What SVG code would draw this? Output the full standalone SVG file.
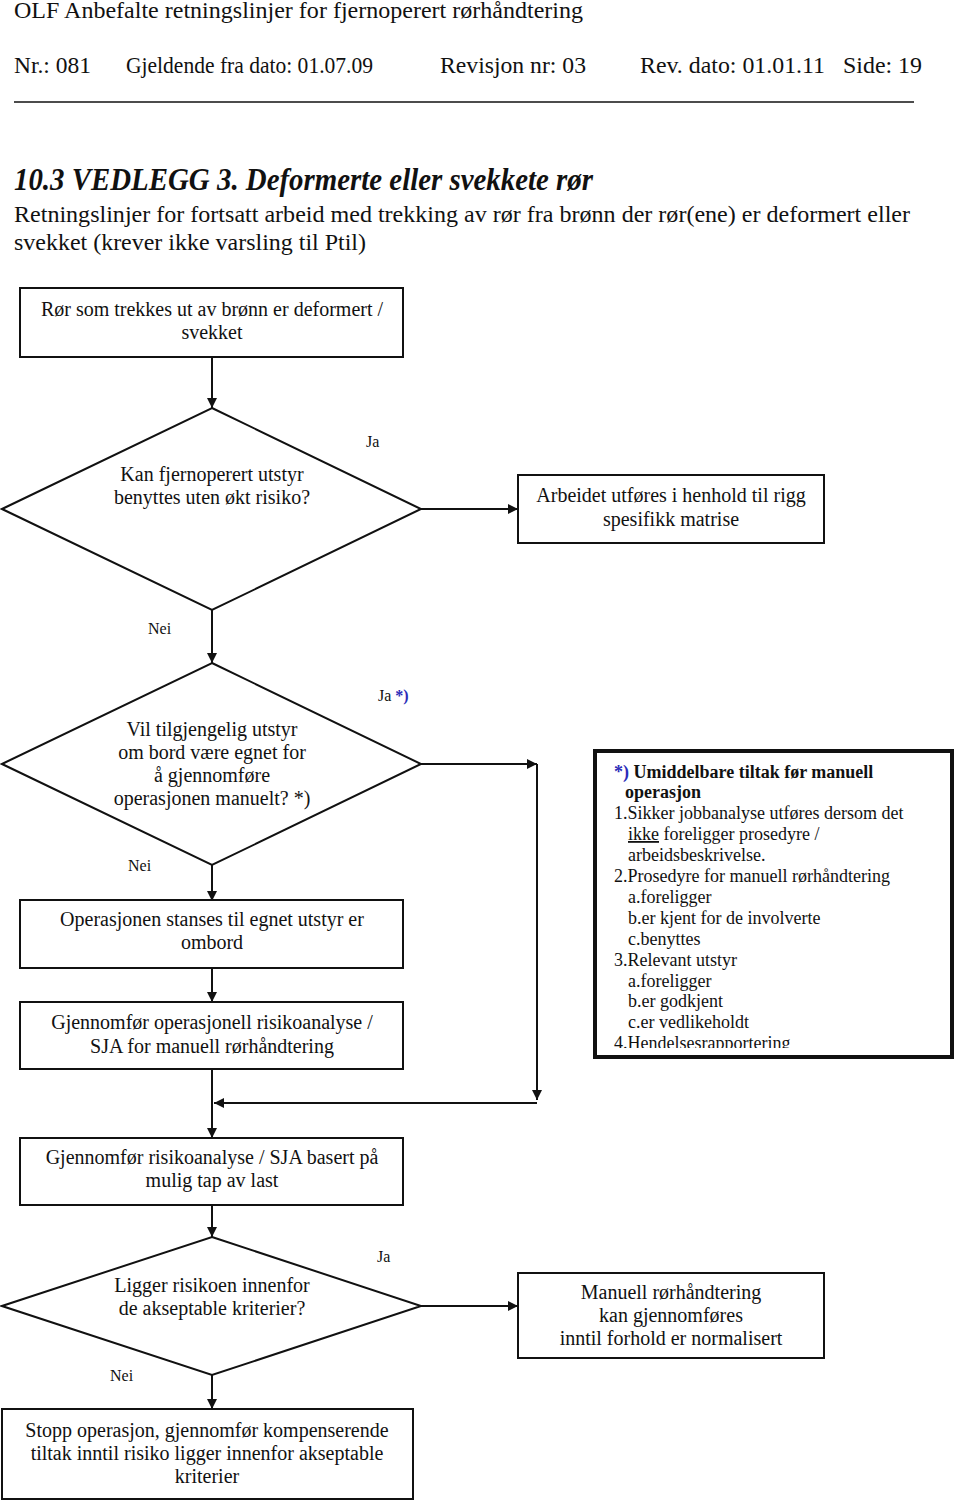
<svg xmlns="http://www.w3.org/2000/svg" width="960" height="1504" viewBox="0 0 960 1504">
<defs>
<style>
text{font-family:"Liberation Serif","Times New Roman",serif;fill:#111}
.hd{font-size:23px}
.ttl{font-size:31px;font-weight:bold;font-style:italic}
.nt{font-size:20px;text-anchor:middle}
.lb{font-size:16px}
.note{font-size:18px}
.b{font-weight:bold}
.blue{fill:#2b2bb8}
.box{fill:#fff;stroke:#111;stroke-width:2}
.dia{fill:#fff;stroke:#111;stroke-width:2}
.cn{fill:none;stroke:#111;stroke-width:2}
</style>
<marker id="ah" viewBox="0 0 10 10" refX="10" refY="5" markerWidth="10" markerHeight="10" markerUnits="userSpaceOnUse" orient="auto">
<path d="M0,0 L10,5 L0,10 Z" fill="#111"/>
</marker>
<clipPath id="noteclip"><rect x="596" y="752" width="355" height="296"/></clipPath>
</defs>
<rect width="960" height="1504" fill="#fff"/>

<g id="header">
<text class="hd" x="14" y="18" textLength="569" lengthAdjust="spacingAndGlyphs">OLF Anbefalte retningslinjer for fjernoperert rørhåndtering</text>
<text class="hd" x="14" y="73" textLength="77" lengthAdjust="spacingAndGlyphs">Nr.: 081</text>
<text class="hd" x="126" y="73" textLength="247" lengthAdjust="spacingAndGlyphs">Gjeldende fra dato: 01.07.09</text>
<text class="hd" x="440" y="73" textLength="146" lengthAdjust="spacingAndGlyphs">Revisjon nr: 03</text>
<text class="hd" x="640" y="73" textLength="185" lengthAdjust="spacingAndGlyphs">Rev. dato: 01.01.11</text>
<text class="hd" x="843" y="73" textLength="79" lengthAdjust="spacingAndGlyphs">Side: 19</text>
<line x1="14" y1="102" x2="914" y2="102" stroke="#111" stroke-width="1.5"/>
<text class="ttl" x="14" y="190" textLength="579" lengthAdjust="spacingAndGlyphs">10.3 VEDLEGG 3. Deformerte eller svekkete rør</text>
<text class="hd" x="14" y="222" textLength="896" lengthAdjust="spacingAndGlyphs">Retningslinjer for fortsatt arbeid med trekking av rør fra brønn der rør(ene) er deformert eller</text>
<text class="hd" x="14" y="250" textLength="352" lengthAdjust="spacingAndGlyphs">svekket (krever ikke varsling til Ptil)</text>
</g>

<g id="connectors">
<line class="cn" x1="212" y1="357" x2="212" y2="408" marker-end="url(#ah)"/>
<line class="cn" x1="421" y1="509" x2="518" y2="509" marker-end="url(#ah)"/>
<line class="cn" x1="212" y1="610" x2="212" y2="663" marker-end="url(#ah)"/>
<line class="cn" x1="421" y1="764" x2="537" y2="764" marker-end="url(#ah)"/>
<line class="cn" x1="537" y1="764" x2="537" y2="1100" marker-end="url(#ah)"/>
<line class="cn" x1="537" y1="1103" x2="214" y2="1103" marker-end="url(#ah)"/>
<line class="cn" x1="212" y1="865" x2="212" y2="901" marker-end="url(#ah)"/>
<line class="cn" x1="212" y1="968" x2="212" y2="1002" marker-end="url(#ah)"/>
<line class="cn" x1="212" y1="1069" x2="212" y2="1138" marker-end="url(#ah)"/>
<line class="cn" x1="212" y1="1205" x2="212" y2="1237" marker-end="url(#ah)"/>
<line class="cn" x1="421" y1="1306" x2="518" y2="1306" marker-end="url(#ah)"/>
<line class="cn" x1="212" y1="1375" x2="212" y2="1409" marker-end="url(#ah)"/>
<text class="lb" x="366" y="447">Ja</text>
<text class="lb" x="148" y="634">Nei</text>
<text class="lb" x="378" y="701">Ja <tspan class="b blue">*)</tspan></text>
<text class="lb" x="128" y="871">Nei</text>
<text class="lb" x="377" y="1262">Ja</text>
<text class="lb" x="110" y="1381">Nei</text>
</g>

<g id="n1">
<rect class="box" x="20" y="288" width="383" height="69"/>
<text class="nt" x="212" y="316">Rør som trekkes ut av brønn er deformert /</text>
<text class="nt" x="212" y="339">svekket</text>
</g>

<g id="d1">
<polygon class="dia" points="212,408 421,509 212,610 2,509"/>
<text class="nt" x="212" y="481">Kan fjernoperert utstyr</text>
<text class="nt" x="212" y="504">benyttes uten økt risiko?</text>
</g>

<g id="n2">
<rect class="box" x="518" y="475" width="306" height="68"/>
<text class="nt" x="671" y="502">Arbeidet utføres i henhold til rigg</text>
<text class="nt" x="671" y="526">spesifikk matrise</text>
</g>

<g id="d2">
<polygon class="dia" points="212,663 421,764 212,865 2,764"/>
<text class="nt" x="212" y="736">Vil tilgjengelig utstyr</text>
<text class="nt" x="212" y="759">om bord være egnet for</text>
<text class="nt" x="212" y="782">å gjennomføre</text>
<text class="nt" x="212" y="805">operasjonen manuelt? *)</text>
</g>

<g id="n3">
<rect class="box" x="20" y="900" width="383" height="68"/>
<text class="nt" x="212" y="926">Operasjonen stanses til egnet utstyr er</text>
<text class="nt" x="212" y="949">ombord</text>
</g>

<g id="n4">
<rect class="box" x="20" y="1002" width="383" height="67"/>
<text class="nt" x="212" y="1029">Gjennomfør operasjonell risikoanalyse /</text>
<text class="nt" x="212" y="1053">SJA for manuell rørhåndtering</text>
</g>

<g id="notes">
<rect x="595" y="751" width="357" height="306" fill="#fff" stroke="#111" stroke-width="4"/>
<g clip-path="url(#noteclip)">
<text class="note b" x="614" y="778"><tspan class="blue">*)</tspan> Umiddelbare tiltak før manuell</text>
<text class="note b" x="625" y="798">operasjon</text>
<text class="note" x="614" y="819">1.Sikker jobbanalyse utføres dersom det</text>
<text class="note" x="628" y="840"><tspan text-decoration="underline">ikke</tspan> foreligger prosedyre /</text>
<text class="note" x="628" y="861">arbeidsbeskrivelse.</text>
<text class="note" x="614" y="882">2.Prosedyre for manuell rørhåndtering</text>
<text class="note" x="628" y="903">a.foreligger</text>
<text class="note" x="628" y="924">b.er kjent for de involverte</text>
<text class="note" x="628" y="945">c.benyttes</text>
<text class="note" x="614" y="966">3.Relevant utstyr</text>
<text class="note" x="628" y="987">a.foreligger</text>
<text class="note" x="628" y="1007">b.er godkjent</text>
<text class="note" x="628" y="1028">c.er vedlikeholdt</text>
<text class="note" x="614" y="1049">4.Hendelsesrapportering</text>
</g>
</g>

<g id="n5">
<rect class="box" x="20" y="1138" width="383" height="67"/>
<text class="nt" x="212" y="1164">Gjennomfør risikoanalyse / SJA basert på</text>
<text class="nt" x="212" y="1187">mulig tap av last</text>
</g>

<g id="d3">
<polygon class="dia" points="212,1237 421,1306 212,1375 2,1306"/>
<text class="nt" x="212" y="1292">Ligger risikoen innenfor</text>
<text class="nt" x="212" y="1315">de akseptable kriterier?</text>
</g>

<g id="n6">
<rect class="box" x="518" y="1273" width="306" height="85"/>
<text class="nt" x="671" y="1299">Manuell rørhåndtering</text>
<text class="nt" x="671" y="1322">kan gjennomføres</text>
<text class="nt" x="671" y="1345">inntil forhold er normalisert</text>
</g>

<g id="n7">
<rect class="box" x="2" y="1409" width="411" height="90"/>
<text class="nt" x="207" y="1437">Stopp operasjon, gjennomfør kompenserende</text>
<text class="nt" x="207" y="1460">tiltak inntil risiko ligger innenfor akseptable</text>
<text class="nt" x="207" y="1483">kriterier</text>
</g>
</svg>
